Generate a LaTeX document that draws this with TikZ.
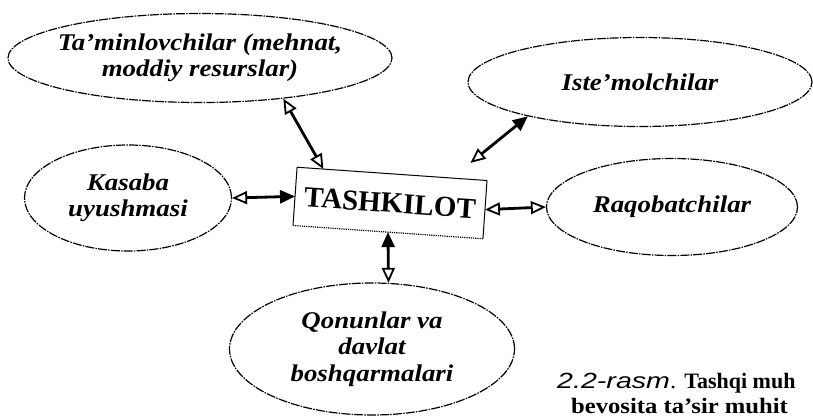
\documentclass[tikz,border=0pt]{standalone}
\usepackage{fontspec}
\setmainfont{Liberation Serif}[FakeStretch=1.12]
\newfontfamily\boxfont{Liberation Serif}
\newfontfamily\capit{Liberation Sans}[FakeStretch=1.3]
\usepackage{tikz}
\usetikzlibrary{arrows.meta,shapes.geometric,positioning}

\begin{document}
\begin{tikzpicture}
[x=1pt,y=-1pt, line join=round,
envir/.style={ellipse,draw,line width=1.2pt,
  dash pattern=on 9pt off 1.2pt on 1.5pt off 1.2pt,
  inner sep=-12pt,align=center,
  font=\fontsize{24}{26.5}\selectfont\bfseries\itshape},
orgbox/.style={rectangle,minimum width=190pt,minimum height=58pt,
  inner sep=0pt,rotate=-4,font=\boxfont\fontsize{29}{30}\selectfont\bfseries},
link/.style={line width=2.8pt},
Hol/.tip={Triangle[open,length=15pt,width=13pt,line width=1.8pt]},
Ful/.tip={Triangle[length=15pt,width=13pt]}]
\useasboundingbox (0,0) rectangle (813,418);

\node (tam) at (200,58) [envir,minimum width=384pt,minimum height=89pt] {Ta’minlovchilar (mehnat,\\moddiy resurslar)};
\node (ist) at (640,82) [envir,minimum width=344pt,minimum height=89pt] {Iste’molchilar};
\node (kas) at (128,198) [envir,minimum width=207pt,minimum height=106pt] {Kasaba\\uyushmasi};
\node (org) at (390,203) [orgbox] {TASHKILOT};
\node (raq) at (672,207) [envir,minimum width=251pt,minimum height=97pt] {Raqobatchilar};
\node (qon) at (372,349) [envir,minimum width=285pt,minimum height=132pt] {Qonunlar va\\davlat\\boshqarmalari};
\node (cap) at (557,373) [anchor=north west,inner sep=0pt,align=left,
  font=\fontsize{22}{25}\selectfont] {{\capit\itshape 2.2-rasm}. {\boxfont\bfseries Tashqi muh}\\\hspace*{14pt}\textbf{bevosita ta’sir muhit}};

% box outline, dotted at the bottom
\draw[line width=1pt] (org.south west) -- (org.north west) -- (org.north east) -- (org.south east);
\draw[line width=1.2pt,densely dotted] (org.south east) -- (org.south west);

\draw[link,Hol-Hol] (tam.-26) -- (org.157);
\draw[link,Ful-Hol,shorten >=24pt] (ist.-163) -- (org.26);
\draw[link,Hol-Ful] (kas.east) -- (org.west);
\draw[link,Hol-Hol] (org.east) -- (raq.west);
\draw[link,Ful-Hol] (org.south) -- (qon.76);

\end{tikzpicture}
\end{document}
